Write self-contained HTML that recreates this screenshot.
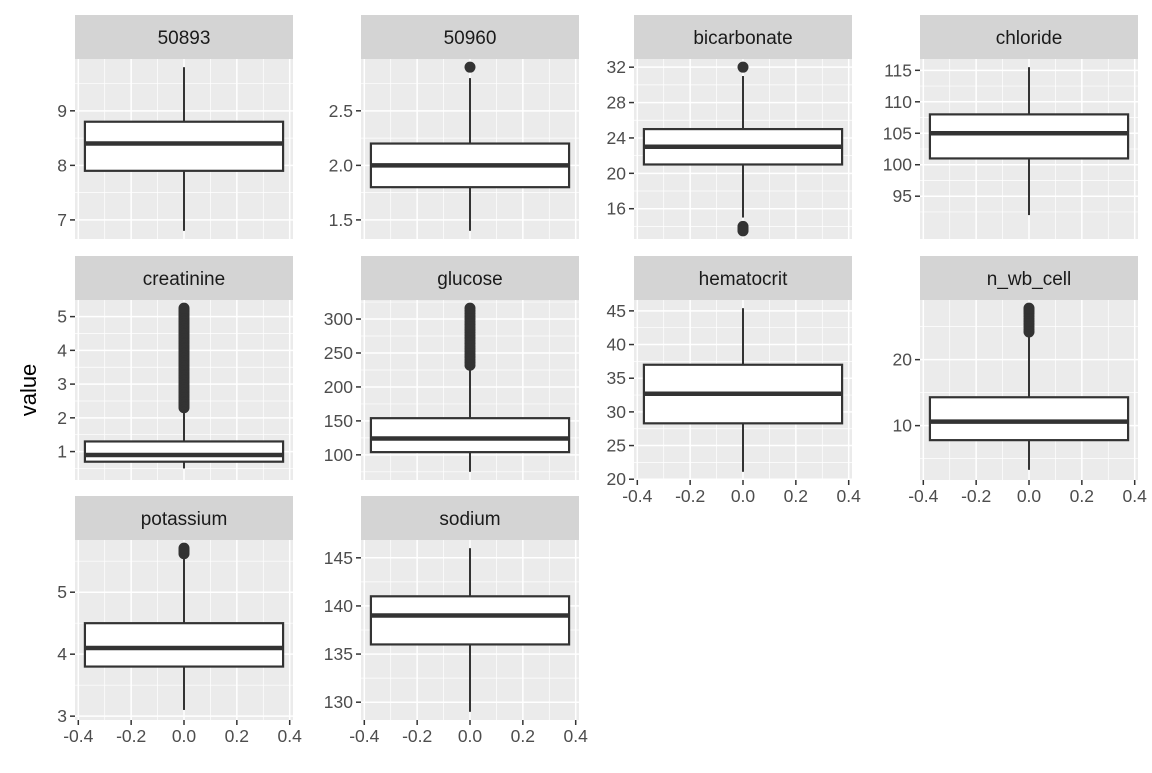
<!DOCTYPE html>
<html><head><meta charset="utf-8"><style>
body{margin:0;background:#fff;}
svg text{font-family:"Liberation Sans",Arial,sans-serif;}
</style></head><body>
<svg id="chart" width="1152" height="768" viewBox="0 0 1152 768" xmlns="http://www.w3.org/2000/svg">
<rect width="1152" height="768" fill="#fff"/>
<text x="0" y="0" transform="translate(36,390) rotate(-90)" text-anchor="middle" font-size="22" fill="#000">value</text>
</svg>
<script>
const panelNames = ["50893","50960","bicarbonate","chloride","creatinine","glucose","hematocrit","n_wb_cell","potassium","sodium"];
const whiskerLow = [6.8,1.4,15,92,0.5,75,21.1,3.3,3.1,129];
const q1Values = [7.9,1.8,21,101,0.7,104,28.3,7.8,3.8,136];
const medianValues = [8.4,2.0,23,105,0.9,124,32.7,10.6,4.1,139];
const q3Values = [8.8,2.2,25,108,1.3,154,37,14.3,4.5,141];
const whiskerHigh = [9.8,2.8,31,115.5,2.2,230,45.4,24,5.6,146];
const dataMin = [6.8,1.4,13.5,89.5,0.4,75,21.1,3.0,3.07,129];
const outliers = [
  [],
  [2.9],
  [32,14,13.8,13.6,13.5],
  [],
  [2.3,2.35,2.4,2.45,2.5,2.55,2.6,2.65,2.7,2.75,2.8,2.85,2.9,2.95,3.0,3.05,3.1,3.15,3.2,3.25,3.3,3.35,3.4,3.45,3.5,3.55,3.6,3.65,3.7,3.75,3.8,3.85,3.9,3.95,4.0,4.05,4.1,4.15,4.2,4.25,4.3,4.35,4.4,4.45,4.5,4.55,4.6,4.65,4.7,4.75,4.8,4.85,4.9,4.95,5.0,5.05,5.1,5.15,5.2,5.25],
  [232,236,240,244,248,252,256,260,264,268,272,276,280,284,288,292,296,300,304,308,312,316],
  [],
  [24.2,24.6,25,25.4,25.8,26.2,26.6,27,27.3,27.6,27.8],
  [5.62,5.65,5.68,5.71],
  []
];
const yTicks = [
  [7,8,9],[1.5,2.0,2.5],[16,20,24,28,32],[95,100,105,110,115],[1,2,3,4,5],
  [100,150,200,250,300],[20,25,30,35,40,45],[10,20],[3,4,5],[130,135,140,145]
];
const yTickLabels = [
  ["7","8","9"],["1.5","2.0","2.5"],["16","20","24","28","32"],["95","100","105","110","115"],["1","2","3","4","5"],
  ["100","150","200","250","300"],["20","25","30","35","40","45"],["10","20"],["3","4","5"],["130","135","140","145"]
];
const xTicks = [-0.4,-0.2,0.0,0.2,0.4];
const xTickLabels = ["-0.4","-0.2","0.0","0.2","0.4"];
const xMinor = [-0.3,-0.1,0.1,0.3];
const showXAxis = [false,false,false,false,false,false,true,true,true,true];

const NS="http://www.w3.org/2000/svg";
const svg=document.getElementById('chart');
const colLeft=[75,361,634,920], rowTop=[15,256,496], PW=218, SH=44, PH=180;
function mk(tag,attrs,parent){const e=document.createElementNS(NS,tag);for(const k in attrs)e.setAttribute(k,attrs[k]);(parent||svg).appendChild(e);return e;}

panelNames.forEach((name,i)=>{
  const c=i%4,r=Math.floor(i/4);
  const L=colLeft[c], T=rowTop[r]+SH;
  const g=mk('g',{});
  
  
  const allMax=Math.max(whiskerHigh[i],...outliers[i]);
  const allMin=Math.min(dataMin[i],whiskerLow[i],...outliers[i]);
  const ex=(allMax-allMin)*0.05, y0=allMin-ex, y1=allMax+ex;
  const ys=v=>T+PH-(v-y0)/(y1-y0)*PH;
  const xs=v=>L+(v+0.4125)/0.825*PW;
  const st=mk('rect',{x:L,y:rowTop[r],width:PW,height:SH,fill:'#d4d4d4'},g);
  
  
  const stt=mk('text',{x:L+PW/2,y:rowTop[r]+29,'text-anchor':'middle','font-size':19,fill:'#1a1a1a'},g);
  stt.textContent=name;
  
  
  mk('rect',{x:L,y:T,width:PW,height:PH,fill:'#ebebeb'},g);
  const yt=yTicks[i];
  const step=yt[1]-yt[0];
  const minors=[yt[0]-step/2];
  yt.forEach(v=>minors.push(v+step/2));
  minors.forEach(v=>{const y=ys(v);if(y>T&&y<T+PH)mk('line',{x1:L,x2:L+PW,y1:y,y2:y,stroke:'#fff','stroke-width':0.7},g);});
  xMinor.forEach(v=>mk('line',{x1:xs(v),x2:xs(v),y1:T,y2:T+PH,stroke:'#fff','stroke-width':0.7},g));
  yt.forEach(v=>{const y=ys(v);mk('line',{x1:L,x2:L+PW,y1:y,y2:y,stroke:'#fff','stroke-width':1.5},g);});
  xTicks.forEach(v=>mk('line',{x1:xs(v),x2:xs(v),y1:T,y2:T+PH,stroke:'#fff','stroke-width':1.5},g));
  yt.forEach((v,k)=>{const y=ys(v);
    mk('line',{x1:L-5,x2:L,y1:y,y2:y,stroke:'#333','stroke-width':1.5},g);
    const t=mk('text',{x:L-8,y:y+6,'text-anchor':'end','font-size':17.5,fill:'#4d4d4d'},g);
    t.textContent=yTickLabels[i][k];
    
    
  });
  if(showXAxis[i]){
    xTicks.forEach((v,k)=>{const x=xs(v);
      mk('line',{x1:x,x2:x,y1:T+PH,y2:T+PH+5,stroke:'#333','stroke-width':1.5},g);
      const t=mk('text',{x:x,y:T+PH+22,'text-anchor':'middle','font-size':17.5,fill:'#4d4d4d'},g);
      t.textContent=xTickLabels[k];
      
      
    });
  }
  const cx=xs(0);
  const wl=mk('line',{x1:cx,x2:cx,y1:ys(whiskerLow[i]),y2:ys(q1Values[i]),stroke:'#333','stroke-width':2},g);
  
  
  const wh=mk('line',{x1:cx,x2:cx,y1:ys(whiskerHigh[i]),y2:ys(q3Values[i]),stroke:'#333','stroke-width':2},g);
  
  
  const bx=mk('rect',{x:xs(-0.375),y:ys(q3Values[i]),width:xs(0.375)-xs(-0.375),height:ys(q1Values[i])-ys(q3Values[i]),fill:'#fff',stroke:'#333','stroke-width':2.2},g);
  
  
  const md=mk('line',{x1:xs(-0.375),x2:xs(0.375),y1:ys(medianValues[i]),y2:ys(medianValues[i]),stroke:'#333','stroke-width':4.5},g);
  
  
  outliers[i].forEach(v=>{
    const o=mk('circle',{cx:cx,cy:ys(v),r:5.5,fill:'#333'},g);
    
    
  });
});
</script>
</body></html>
